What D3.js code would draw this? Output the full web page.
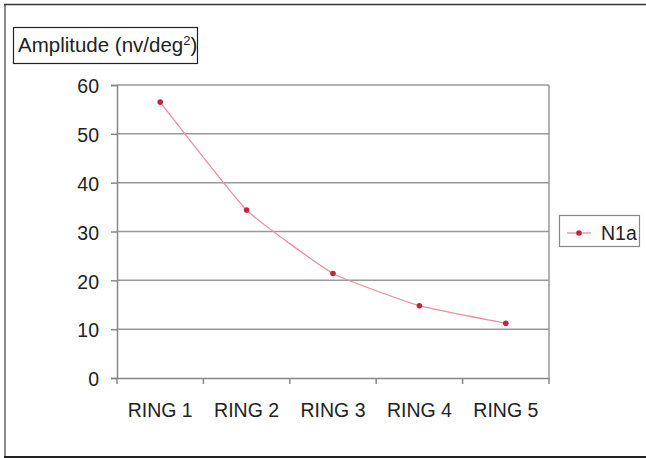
<!DOCTYPE html>
<html><head><meta charset="utf-8">
<script src="https://cdn.jsdelivr.net/npm/d3@7"></script>
<style>body{margin:0;background:#fff}svg{display:block}text{font-family:"Liberation Sans",Arial,sans-serif;fill:#222}</style>
</head><body><svg id="c" width="646" height="458"></svg>
<script>
const categories = ["RING 1","RING 2","RING 3","RING 4","RING 5"];
const seriesName = "N1a";
const values = [56.5, 34.4, 21.4, 14.8, 11.2];
const yTicks = [0,10,20,30,40,50,60];
const yTitle = "Amplitude (nv/deg";

const svg = d3.select("#c");
const L = 117, R = 549, T = 85, B = 378;
const x = d3.scaleBand().domain(categories).range([L, R]);
const y = d3.scaleLinear().domain([0, 60]).range([B, T]);

// outer frame
svg.append("line").attr("x1",5).attr("x2",5).attr("y1",4).attr("y2",457).attr("stroke","#888").attr("stroke-width",2);
svg.append("line").attr("x1",4).attr("x2",646).attr("y1",4.5).attr("y2",4.5).attr("stroke","#333").attr("stroke-width",1.5);
svg.append("line").attr("x1",4).attr("x2",646).attr("y1",457).attr("y2",457).attr("stroke","#222").attr("stroke-width",2);

// gridlines
svg.append("g").selectAll("line").data(yTicks.filter(d=>d>0)).join("line")
  .attr("x1",L).attr("x2",R).attr("y1",d=>y(d)).attr("y2",d=>y(d))
  .attr("stroke","#999").attr("stroke-width",1.5);

// y axis
const ya = svg.append("g").attr("transform",`translate(${L},0)`)
  .call(d3.axisLeft(y).tickValues(yTicks).tickSize(6).tickPadding(12));
ya.select(".domain").attr("stroke","#888").attr("stroke-width",1.5);
ya.selectAll(".tick line").attr("stroke","#888").attr("stroke-width",1.5);
ya.selectAll(".tick text").attr("font-size",19.5).attr("fill","#222").attr("dy","0.4em");

// x axis
const xa = svg.append("g").attr("transform",`translate(0,${B})`)
  .call(d3.axisBottom(x).tickSize(0).tickPadding(25.5));
xa.select(".domain").attr("stroke","#888").attr("stroke-width",1.5);
xa.selectAll(".tick text").attr("font-size",19.5).attr("fill","#222");
// boundary ticks
const bounds = categories.map(c=>x(c)).concat([R]);
xa.selectAll(".btick").data(bounds).join("line").attr("class","btick")
  .attr("x1",d=>d).attr("x2",d=>d).attr("y1",0).attr("y2",6)
  .attr("stroke","#888").attr("stroke-width",1.5);

// right plot border
svg.append("line").attr("x1",R).attr("x2",R).attr("y1",T).attr("y2",B)
  .attr("stroke","#999").attr("stroke-width",1.5);

// series line
const pts = values.map((v,i)=>[x(categories[i])+x.bandwidth()/2, y(v)]);
svg.append("path").attr("d", d3.line().curve(d3.curveCardinal.tension(0.6))(pts))
  .attr("fill","none").attr("stroke","#eb8fa0").attr("stroke-width",1.3);
svg.append("g").selectAll("circle").data(pts).join("circle")
  .attr("cx",d=>d[0]).attr("cy",d=>d[1]).attr("r",2.8).attr("fill","#c8213f");

// y title box
svg.append("rect").attr("x",13.5).attr("y",27.5).attr("width",184).attr("height",36)
  .attr("fill","#fff").attr("stroke","#222").attr("stroke-width",1.2);
const tt = svg.append("text").attr("x",18).attr("y",52).attr("font-size",20.5);
tt.append("tspan").text(yTitle);
tt.append("tspan").attr("font-size",13).attr("dy",-7).text("2");
tt.append("tspan").attr("dy",7).text(")");

// legend
svg.append("rect").attr("x",559.5).attr("y",215.5).attr("width",80).attr("height",31)
  .attr("fill","#fff").attr("stroke","#888").attr("stroke-width",1.2);
svg.append("line").attr("x1",567).attr("x2",591).attr("y1",233).attr("y2",233)
  .attr("stroke","#eb8fa0").attr("stroke-width",1.3);
svg.append("circle").attr("cx",579).attr("cy",233).attr("r",2.8).attr("fill","#c8213f");
svg.append("text").attr("x",601).attr("y",240).attr("font-size",19.5).text(seriesName);
</script></body></html>
